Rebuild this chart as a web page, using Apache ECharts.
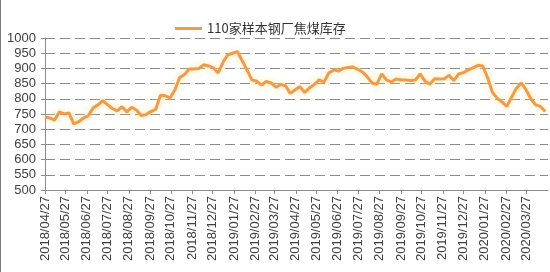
<!DOCTYPE html>
<html>
<head>
<meta charset="utf-8">
<script src="https://cdn.jsdelivr.net/npm/echarts@6/dist/echarts.min.js"></script>
<style>html,body{margin:0;padding:0;background:#fff}#c{width:550px;height:272px}</style>
</head>
<body>
<div id="c"></div>
<script>
// Weekly series: first date, values (one per week), axis range
const seriesName = '110家样本钢厂焦煤库存';
const startDate = '2018/04/27';
const endAxisDate = '2020/04/28';
const weeklyValues = [
  740, 737, 730, 757, 750, 753, 717, 725, 737, 744,
  770, 780, 794, 781, 768, 760, 774, 757, 772, 763,
  745, 748, 758, 765, 812, 810, 803, 830, 870, 880,
  898, 898, 900, 912, 908, 902, 885, 920, 945, 950,
  955, 925, 895, 862, 858, 845, 857, 852, 838, 847,
  843, 818, 830, 840, 821, 836, 847, 862, 855, 885,
  895, 891, 900, 903, 905, 897, 888, 872, 852, 848,
  882, 862, 855, 865, 862, 862, 860, 862, 882, 858,
  848, 866, 865, 866, 877, 860, 882, 886, 895, 902,
  910, 908, 870, 822, 802, 790, 775, 805, 835, 852,
  830, 800, 780, 775, 758
];
const monthLabels = [
  '2018/04/27','2018/05/27','2018/06/27','2018/07/27','2018/08/27','2018/09/27',
  '2018/10/27','2018/11/27','2018/12/27','2019/01/27','2019/02/27','2019/03/27',
  '2019/04/27','2019/05/27','2019/06/27','2019/07/27','2019/08/27','2019/09/27',
  '2019/10/27','2019/11/27','2019/12/27','2020/01/27','2020/02/27','2020/03/27'
];
const yMin = 500, yMax = 1000, yStep = 50;

// Build a daily category axis and place the weekly values on it
function parse(s){const p=s.split('/').map(Number);return Date.UTC(p[0],p[1]-1,p[2]);}
function fmt(t){const d=new Date(t);const m=d.getUTCMonth()+1, dd=d.getUTCDate();
  return d.getUTCFullYear()+'/'+(m<10?'0':'')+m+'/'+(dd<10?'0':'')+dd;}
const DAY = 86400000;
const t0 = parse(startDate), t1 = parse(endAxisDate);
const categories = [];
for (let t = t0; t <= t1; t += DAY) categories.push(fmt(t));
const lineData = categories.map(() => null);
weeklyValues.forEach((v, i) => { lineData[i * 7] = v; });
const labelSet = new Set(monthLabels);

const chart = echarts.init(document.getElementById('c'));
chart.setOption({
  animation: false,
  backgroundColor: '#fff',
  grid: { left: 45, right: 2, top: 38, bottom: 82, containLabel: false },
  legend: {
    left: 170, top: 17,
    icon: 'rect', itemWidth: 27, itemHeight: 3, itemGap: 10,
    textStyle: { fontFamily: 'Noto Sans CJK SC', fontSize: 13, color: '#333' },
    data: [seriesName]
  },
  xAxis: {
    type: 'category',
    data: categories,
    boundaryGap: false,
    axisLine: { lineStyle: { color: '#8c8c8c', width: 1 } },
    axisTick: { show: true, length: 4, interval: (i, v) => labelSet.has(v), lineStyle: { color: '#8c8c8c' } },
    axisLabel: {
      rotate: 90, interval: (i, v) => labelSet.has(v), margin: 6,
      fontFamily: 'Liberation Sans', fontSize: 13, color: '#404040'
    },
    splitLine: { show: false }
  },
  yAxis: {
    type: 'value', min: yMin, max: yMax, interval: yStep,
    axisLine: { show: true, lineStyle: { color: '#8c8c8c', width: 1 } },
    axisTick: { show: true, length: 4, lineStyle: { color: '#8c8c8c' } },
    axisLabel: { margin: 9, fontFamily: 'Liberation Sans', fontSize: 13, color: '#404040',
      formatter: v => String(v) },
    splitLine: { show: true, lineStyle: { color: '#8a8a8a', width: 1.2, type: [10, 5] } }
  },
  series: [{
    name: seriesName,
    type: 'line',
    data: lineData,
    connectNulls: true,
    showSymbol: false,
    symbol: 'none',
    color: '#EF9A4C',
    lineStyle: { color: '#EF9A4C', width: 3, shadowColor: 'rgba(255,225,140,0.9)', shadowBlur: 6 }
  }],
  graphic: [{ type: 'line', shape: { x1: 0.5, y1: 0, x2: 0.5, y2: 272 }, style: { stroke: '#7a7a7a', lineWidth: 1 } }]
});
</script>
</body>
</html>
